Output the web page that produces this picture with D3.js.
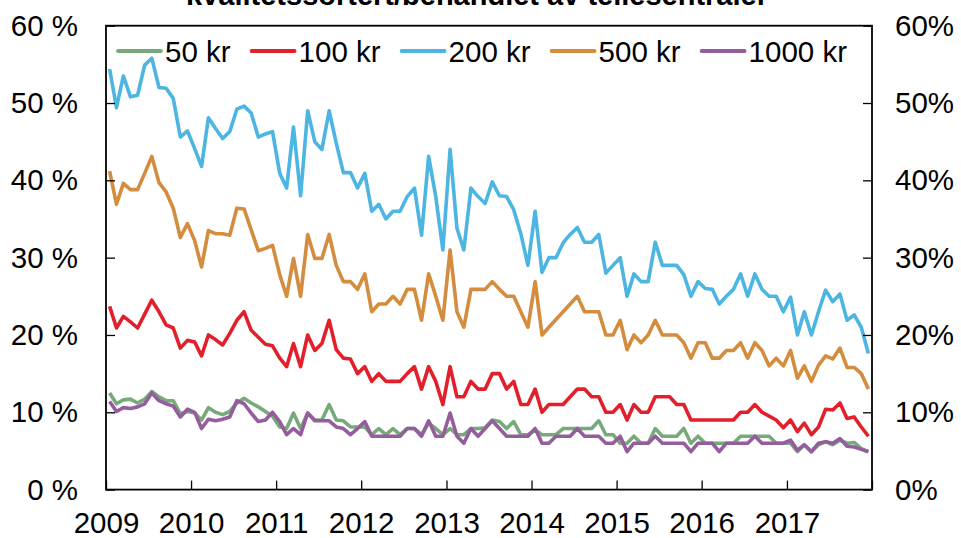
<!DOCTYPE html>
<html>
<head>
<meta charset="utf-8">
<script src="https://cdn.jsdelivr.net/npm/d3@7"></script>
<style>
  html, body { margin: 0; padding: 0; background: #fff; }
  svg { display: block; font-family: "Liberation Sans", Arial, sans-serif; }
</style>
</head>
<body>
<svg id="chart" width="961" height="538"></svg>
<script>
// ---- Data (monthly, Jan 2009 – Dec 2017), percent ----
const titleText = "kvalitetssortert/behandlet av tellesentraler";
const seriesNames = ["50 kr", "100 kr", "200 kr", "500 kr", "1000 kr"];
const seriesColors = ["#78a97a", "#e2202c", "#4cb5e1", "#d48c3e", "#955d9e"];
const yTicks = [0, 10, 20, 30, 40, 50, 60];
const yearLabels = ["2009","2010","2011","2012","2013","2014","2015","2016","2017"];
const startMonth = new Date(2009, 0, 1);
const endMonth = new Date(2018, 0, 1);

const kr50 = [12.5,11.1,11.6,11.7,11.2,11.7,12.7,12.0,11.5,11.5,9.8,10.1,9.9,9.0,10.6,10.0,9.7,10.1,11.2,11.8,11.2,10.7,10.1,9.5,8.1,7.9,9.9,7.9,9.9,9.0,9.0,11.0,9.0,8.9,8.1,8.1,8.1,7.1,7.9,7.1,7.9,7.1,7.9,7.9,7.1,8.6,7.9,7.1,7.9,7.1,7.1,7.9,7.9,8.0,9.0,8.8,7.9,8.8,7.1,7.1,7.7,7.1,7.1,7.1,7.9,7.9,7.9,7.9,7.9,8.9,7.1,7.1,6.0,6.0,6.9,6.0,6.0,7.9,6.9,6.9,6.9,7.9,6.0,6.9,6.0,6.0,6.0,6.0,6.0,6.9,6.9,6.9,6.9,6.9,6.0,6.0,6.0,4.9,5.8,4.9,5.8,6.2,5.8,6.4,6.0,6.1,5.3,4.9];
const kr100 = [23.7,20.9,22.4,21.7,20.9,22.7,24.5,23.0,21.3,20.9,18.3,19.3,19.1,17.3,20.0,19.4,18.7,20.2,21.9,23.0,20.6,19.7,18.8,18.6,17.0,15.9,18.9,15.9,20.0,18.0,18.9,21.9,18.1,17.0,16.9,15.0,15.9,14.0,15.0,14.0,14.0,14.0,15.0,15.9,13.0,15.9,14.0,11.0,15.9,12.0,12.0,14.0,13.0,13.0,15.0,15.0,13.0,14.0,11.0,11.0,13.0,10.0,11.0,11.0,11.0,12.0,13.0,13.0,12.0,12.0,10.0,10.0,11.0,9.0,11.0,10.0,10.0,12.0,12.0,12.0,11.0,11.0,9.0,9.0,9.0,9.0,9.0,9.0,9.0,10.0,10.0,11.0,10.0,9.5,9.0,8.0,9.0,7.5,8.6,7.1,8.1,10.4,10.3,11.2,9.2,9.4,8.1,6.9];
const kr200 = [54.4,49.4,53.5,50.8,51.0,54.9,55.8,52.0,51.9,50.6,45.6,46.4,44.1,41.8,48.1,46.7,45.4,46.3,49.2,49.6,48.7,45.6,46.0,46.3,40.9,39.0,46.9,38.0,49.0,45.0,44.0,49.0,44.8,41.0,41.0,39.0,40.9,36.0,36.9,35.0,36.0,36.0,37.9,39.0,32.9,43.1,37.9,31.0,44.0,33.8,31.0,39.0,37.9,37.0,39.8,38.0,37.9,36.2,33.1,29.0,36.0,28.1,30.0,30.0,31.9,33.0,33.9,32.0,32.0,33.0,28.0,29.0,30.0,25.0,27.9,26.9,26.9,32.0,29.0,29.0,29.0,27.8,25.0,26.9,26.0,25.9,24.0,25.0,25.9,27.9,25.0,27.9,25.9,25.0,25.0,23.0,24.9,20.0,23.0,20.0,23.0,25.8,24.3,25.3,21.9,22.6,21.0,17.6];
const kr500 = [41.2,36.9,39.6,38.8,38.8,40.9,43.1,39.7,38.5,36.4,32.6,34.4,32.2,28.8,33.5,33.1,33.1,32.9,36.4,36.3,33.6,30.9,31.2,31.6,27.8,25.0,29.9,25.0,33.0,29.9,29.9,33.0,29.0,26.9,26.9,25.9,27.9,23.0,24.0,24.0,25.0,24.0,25.9,25.9,21.9,27.9,25.0,21.9,31.0,23.0,21.0,25.9,25.9,25.9,26.9,25.9,25.0,25.0,23.0,21.0,26.9,20.0,21.0,22.0,23.0,24.0,25.0,23.0,23.0,23.0,20.0,20.0,21.9,18.1,20.0,19.0,20.0,21.9,20.0,20.0,20.0,19.0,17.0,19.0,19.0,17.0,17.0,18.0,18.0,19.0,17.0,19.0,18.0,16.0,17.0,16.0,18.0,14.4,16.0,14.0,16.1,17.3,16.9,18.3,15.8,15.8,15.0,13.0];
const kr1000 = [11.4,10.1,10.6,10.5,10.7,11.1,12.5,11.5,11.1,10.8,9.4,10.4,10.0,7.9,9.1,8.9,9.1,9.4,11.5,11.1,9.9,8.8,9.0,10.0,8.8,7.1,7.9,7.1,9.9,8.9,8.9,8.9,8.1,7.9,7.1,7.9,8.8,6.9,6.9,6.9,6.9,6.9,7.9,7.9,6.9,8.9,6.9,6.9,9.9,6.9,6.0,7.9,6.9,7.9,8.9,7.9,6.9,6.9,6.9,6.9,7.9,6.0,6.0,6.9,6.9,6.9,7.9,6.9,6.9,6.9,6.0,6.0,6.9,4.9,6.0,6.0,6.0,6.9,6.0,6.0,6.0,6.0,4.9,6.0,6.0,6.0,4.9,6.0,6.0,6.0,6.0,6.9,6.0,6.0,6.0,6.0,6.4,5.1,5.8,4.9,6.0,6.2,6.0,6.6,5.6,5.5,5.2,4.9];

const seriesValues = [kr50, kr100, kr200, kr500, kr1000];

// ---- Layout ----
const svg = d3.select("#chart");
const plotL = 106, plotR = 872, plotT = 25.7, plotB = 489.6;
const fontSize = 29.5;

const months = d3.timeMonth.range(startMonth, endMonth);
const x = d3.scaleTime().domain([startMonth, endMonth]).range([plotL, plotR]);
const y = d3.scaleLinear().domain([0, 60]).range([plotB, plotT]);
const midMonth = d => new Date(d.getTime() + (d3.timeMonth.offset(d, 1) - d) / 2);

// Title (cut off at top, as in the reference)
svg.append("text")
  .attr("x", 477).attr("y", 5)
  .attr("text-anchor", "middle")
  .attr("font-weight", "bold")
  .attr("font-size", 29)
  .text(titleText);

// Lines
const line = d3.line()
  .x((v, i) => x(midMonth(months[i])))
  .y(v => y(v));

const lineG = svg.append("g");
seriesValues.forEach((vals, k) => {
  lineG.append("path")
    .attr("d", line(vals))
    .attr("fill", "none")
    .attr("stroke", seriesColors[k])
    .attr("stroke-width", 3.6)
    .attr("stroke-linejoin", "round");
});

// Axes
const leftAxis = d3.axisLeft(y).tickValues(yTicks).tickSize(-9).tickPadding(28)
  .tickFormat(d => d + " %");
const rightAxis = d3.axisRight(y).tickValues(yTicks).tickSize(-9).tickPadding(23)
  .tickFormat(d => d + "%");
const bottomAxis = d3.axisBottom(x).ticks(d3.timeYear.every(1)).tickSize(-9).tickPadding(22)
  .tickFormat(d => {
    const s = d3.timeFormat("%Y")(d);
    return yearLabels.includes(s) ? s : "";
  });

function styleAxis(g) {
  g.select(".domain").remove();
  g.selectAll(".tick line").attr("stroke", "#000").attr("stroke-width", 1.3);
  g.selectAll("text").attr("font-size", fontSize).attr("fill", "#000")
    .attr("font-family", "Liberation Sans, Arial, sans-serif");
}

svg.append("g").attr("transform", `translate(${plotL},0)`).call(leftAxis).call(styleAxis);
svg.append("g").attr("transform", `translate(${plotR},0)`).call(rightAxis).call(styleAxis);
svg.append("g").attr("transform", `translate(0,${plotB})`).call(bottomAxis).call(styleAxis);

// Frame
svg.append("rect")
  .attr("x", plotL).attr("y", plotT)
  .attr("width", plotR - plotL).attr("height", plotB - plotT)
  .attr("fill", "none").attr("stroke", "#000").attr("stroke-width", 1.8);

// Legend
const legend = svg.append("g").attr("transform", "translate(118,51)");
let lx = 0;
seriesNames.forEach((name, k) => {
  const g = legend.append("g").attr("transform", `translate(${lx},0)`);
  g.append("line").attr("x1", 0).attr("x2", 43).attr("y1", 0).attr("y2", 0)
    .attr("stroke", seriesColors[k]).attr("stroke-width", 3.8).attr("stroke-linecap", "round");
  const t = g.append("text").attr("x", 47).attr("y", 10.5)
    .attr("font-size", fontSize).attr("fill", "#000").text(name);
  lx += 47 + t.node().getComputedTextLength() + 21;
});
</script>
</body>
</html>
